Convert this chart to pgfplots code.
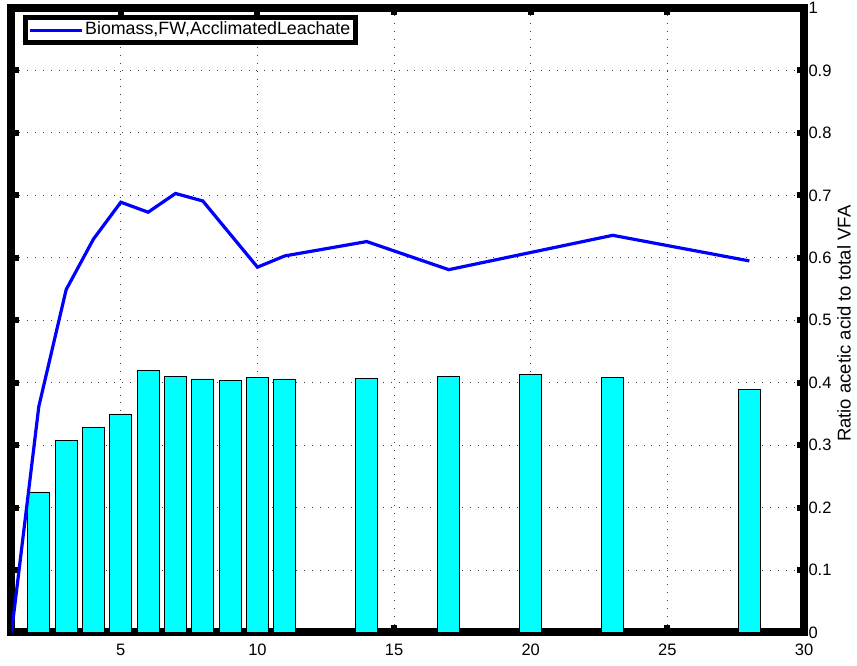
\documentclass[border=0pt]{standalone}
\usepackage{pgfplots}
\pgfplotsset{compat=1.18}
\usepackage{fontspec}
\setmainfont{Liberation Sans}
\definecolor{mblue}{RGB}{0,0,255}
\definecolor{mcyan}{RGB}{0,255,255}
\pgfplotsset{legline/.style={legend image code/.code={\draw[##1] (0pt,0pt) -- (52pt,0pt);}}}
\begin{document}
\begin{tikzpicture}
\begin{axis}[
  scale only axis, width=792.5pt, height=624.5pt,
  xmin=1, xmax=30, ymin=0, ymax=1,
  xtick={5,10,15,20,25,30},
  ytick={0,0.1,0.2,0.3,0.4,0.5,0.6,0.7,0.8,0.9,1},
  yticklabels={0,0.1,0.2,0.3,0.4,0.5,0.6,0.7,0.8,0.9,1},
  yticklabel pos=right,
  axis line style={line width=8pt, black, line join=miter},
  tick align=inside,
  major tick length=7pt,
  every tick/.style={black, line width=6pt},
  grid=major,
  grid style={black!75, line width=0.9pt, dash pattern=on 0.9pt off 7pt},
  ticklabel style={font=\fontsize{16.5}{18}\selectfont},
  xticklabel style={yshift=-8pt},
  yticklabel style={xshift=1pt},
  /pgf/number format/assume math mode=true,
  legend style={at={(axis description cs:0,1)}, anchor=north west, xshift=11pt, yshift=-7pt,
    draw=black, line width=5pt, fill=white, inner xsep=3pt, inner ysep=0pt,
    font=\fontsize{17.8}{20}\selectfont,
    nodes={inner sep=2pt, text height=15.5pt, text depth=6pt}},
  legend cell align=left,
  legline,
]
\addplot[ybar, bar width=0.8, fill=mcyan, draw=black, line width=0.8pt, forget plot] coordinates {
(2,0.225) (3,0.307) (4,0.328) (5,0.350) (6,0.419) (7,0.410) (8,0.406) (9,0.404) (10,0.408) (11,0.406)
(14,0.407) (17,0.410) (20,0.413) (23,0.408) (28,0.389)
};
\addplot[mblue, line width=3.2pt] coordinates {
(1,0) (2,0.362) (3,0.549) (4,0.630) (5,0.689) (6,0.673) (7,0.703) (8,0.691) (10,0.585) (11,0.603)
(14,0.626) (17,0.581) (23,0.636) (28,0.595)
};
\addlegendentry{Biomass,FW,AcclimatedLeachate}
\end{axis}
\node[rotate=90, anchor=center, font=\fontsize{18.5}{20}\selectfont] at ([xshift=40pt, yshift=-3.5pt]current axis.east) {Ratio acetic acid to total VFA};
\pgfresetboundingbox
\path ([shift={(-11.5pt,-33.5pt)}]current axis.south west) rectangle ([shift={(53pt,8pt)}]current axis.north east);
\end{tikzpicture}
\end{document}
